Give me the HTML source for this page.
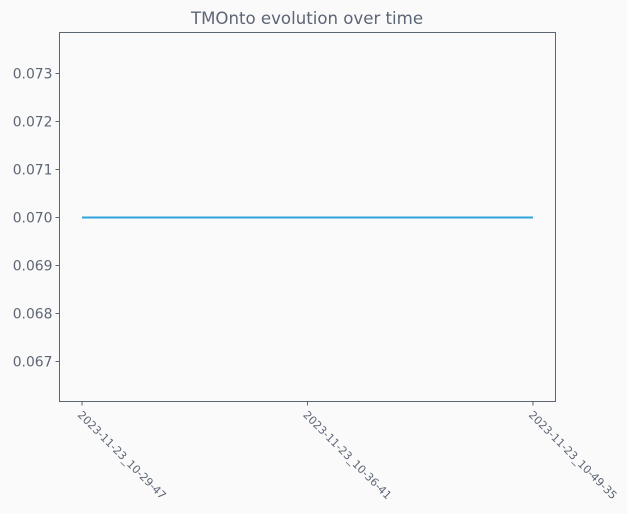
<!DOCTYPE html>
<html><head><meta charset="utf-8"><style>
body{margin:0;background:#fafafa;}
svg{display:block;font-family:"DejaVu Sans","Liberation Sans",sans-serif;}
</style></head><body>
<svg id="chart" width="627" height="514">
<rect width="627" height="514" fill="#fafafa"/>
<text x="307" y="24" text-anchor="middle" font-size="16.6" fill="#5d6575">TMOnto evolution over time</text>
<rect x="59.5" y="32.5" width="496" height="369" fill="none" stroke="#5d6575" stroke-width="1"/>
<g id="yaxis"></g><g id="xaxis"></g><g id="series"></g>
</svg>
<script>
const categories = ["2023-11-23_10-29-47","2023-11-23_10-36-41","2023-11-23_10-49-35"];
const values = [0.070,0.070,0.070];
const yTicks = [0.067,0.068,0.069,0.070,0.071,0.072,0.073];
const L=59.5,R=555.5,T=32.5,B=401.5;
const yMin=0.066167,yMax=0.073854;
const xMin=-0.1,xMax=categories.length-1+0.1;
const sx=i=>L+(i-xMin)/(xMax-xMin)*(R-L);
const sy=v=>B-(v-yMin)/(yMax-yMin)*(B-T);
const NS="http://www.w3.org/2000/svg";
const col="#5d6575";
const ya=document.getElementById('yaxis'),xa=document.getElementById('xaxis'),se=document.getElementById('series');
yTicks.forEach(t=>{
 const y=sy(t);
 const ln=document.createElementNS(NS,'line');
 ln.setAttribute('x1',L-4);ln.setAttribute('x2',L);ln.setAttribute('y1',y);ln.setAttribute('y2',y);ln.setAttribute('stroke',col);
 
 
 ya.appendChild(ln);
 const tx=document.createElementNS(NS,'text');
 tx.setAttribute('x',L-7);tx.setAttribute('y',y+5);tx.setAttribute('text-anchor','end');tx.setAttribute('font-size','13.9');tx.setAttribute('fill',col);
 tx.textContent=t.toFixed(3);
 
 
 ya.appendChild(tx);
});
categories.forEach((c,i)=>{
 const x=sx(i);
 const ln=document.createElementNS(NS,'line');
 ln.setAttribute('x1',x);ln.setAttribute('x2',x);ln.setAttribute('y1',B);ln.setAttribute('y2',B+4);ln.setAttribute('stroke',col);
 
 
 xa.appendChild(ln);
 const tx=document.createElementNS(NS,'text');
 tx.setAttribute('x',0);tx.setAttribute('y',0);tx.setAttribute('font-size','11');tx.setAttribute('fill',col);
 tx.setAttribute('transform',`translate(${x-5},${B+14}) rotate(45)`);
 tx.textContent=c;
 
 
 xa.appendChild(tx);
});
const pl=document.createElementNS(NS,'polyline');
pl.setAttribute('points',values.map((v,i)=>sx(i)+','+sy(v)).join(' '));
pl.setAttribute('fill','none');pl.setAttribute('stroke','#2ea3dc');pl.setAttribute('stroke-width','2');


se.appendChild(pl);
</script>
</body></html>
